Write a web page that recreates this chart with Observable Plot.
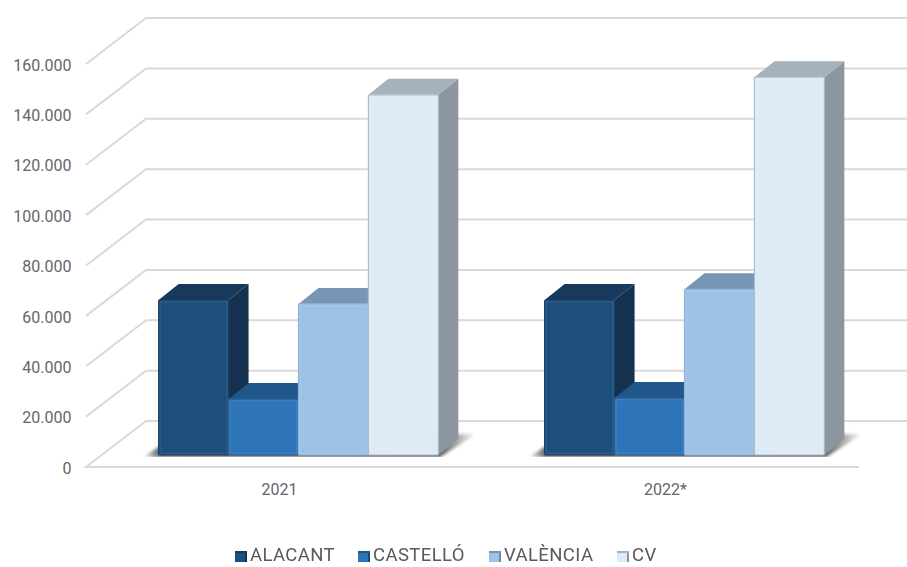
<!DOCTYPE html>
<html>
<head>
<meta charset="utf-8">
<script src="https://cdn.jsdelivr.net/npm/d3@7"></script>
<script src="https://cdn.jsdelivr.net/npm/@observablehq/plot@0.6"></script>
<style>
html,body{margin:0;padding:0;background:#fff;}
#chart{width:907px;height:567px;overflow:hidden;font-family:Roboto,sans-serif;filter:blur(0.45px);}
#legend{height:37px;position:relative;}
#legend span{position:absolute;top:17px;font-size:18.5px;letter-spacing:.4px;line-height:17px;color:#595959;white-space:nowrap;}
#legend i{position:absolute;top:21px;width:12px;height:11px;box-sizing:border-box;}
svg{display:block;}
</style>
</head>
<body>
<div id="chart"></div>
<script>
const years = ["2021", "2022*"];
const regions = ["ALACANT", "CASTELLÓ", "VALÈNCIA", "CV"];
const values2021 = [61500, 22200, 60000, 143000];
const values2022 = [61500, 22600, 65800, 150000];
const yTicks = [0, 20000, 40000, 60000, 80000, 100000, 120000, 140000, 160000];
const frontColors = ["#1d4f7c", "#2e74b8", "#9cc2e6", "#deebf7"];
const sideColors = ["#14324f", "#1b4670", "#6f89a3", "#8d969e"];
const topColors = ["#17395c", "#20568a", "#7896b4", "#a6b2bb"];
const edgeColors = ["#183f63", "#245f98", "#8eb3d6", "#a9bccb"];
const legendLeft = [235, 358, 489, 617];

const rows = years.flatMap((year, i) =>
  regions.map((region, k) => ({year, region, k, value: (i ? values2022 : values2021)[k]}))
);

const W = 907, ML = 85, MR = 49;
const depthX = 20, depthY = 16;
const ns = "http://www.w3.org/2000/svg";
function poly(points, fill) {
  const p = document.createElementNS(ns, "polygon");
  p.setAttribute("points", points.map(d => d.join(",")).join(" "));
  p.setAttribute("fill", fill);
  return p;
}

function wallRender(index, scales) {
  const g = document.createElementNS(ns, "g");
  const x0 = ML, x1 = W - MR;
  const add = (d) => {
    const p = document.createElementNS(ns, "path");
    p.setAttribute("d", d);
    p.setAttribute("fill", "none");
    p.setAttribute("stroke", "#d9d9d9");
    p.setAttribute("stroke-width", "2");
    g.appendChild(p);
  };
  for (const i of index) {
    const v = yTicks[i], y = scales.y(v);
    if (v > 0) add(`M${x0},${y + 12}L${x0 + 60},${y - 34}L${x1 + 60},${y - 34}`);
    else add(`M${x1},${y + 12}L${x0},${y + 12}L${x0 + 60},${y - 34}L${x1 + 60},${y - 34}`);
  }
  return g;
}

function barRender(index, scales, values, dims, ctx, next) {
  const g = next(index, scales, values, dims, ctx);
  const rects = Array.from(g.querySelectorAll("rect"));
  rects.forEach((r, n) => {
    const d = rows[index[n]];
    const x = +r.getAttribute("x"), y = +r.getAttribute("y"), w = +r.getAttribute("width"), h = +r.getAttribute("height");
    const b = y + h;
    if (d.k === 0) {
      const id = "floor" + d.year.slice(0, 4);
      const xL = x - 16, xR = x + 4 * w + depthX + 18, span = xR - xL;
      const defs = document.createElementNS(ns, "defs");
      defs.innerHTML = `<filter id="${id}b" x="-10%" y="-50%" width="120%" height="200%"><feGaussianBlur stdDeviation="1.6"/></filter>` +
        `<clipPath id="${id}c"><rect x="${x - 40}" y="${b - depthY - 20}" width="${4 * w + 120}" height="${depthY + 22}"/></clipPath>` +
        `<linearGradient id="${id}g" gradientUnits="userSpaceOnUse" x1="${xL}" x2="${xR}" y1="0" y2="0">` +
        `<stop offset="0" stop-color="#fff"/><stop offset="${16 / span}" stop-color="#6a6a6a"/>` +
        `<stop offset="${(span - 38) / span}" stop-color="#5a5a5a"/><stop offset="1" stop-color="#fff"/></linearGradient>`;
      const wrap = document.createElementNS(ns, "g");
      wrap.setAttribute("clip-path", `url(#${id}c)`);
      const s = poly([[xL, b + 2], [x + 4 * w + 2, b + 2], [xR, b - depthY - 5], [x + depthX, b - depthY - 5]], `url(#${id}g)`);
      s.setAttribute("filter", `url(#${id}b)`);
      wrap.appendChild(s);
      r.parentNode.insertBefore(defs, r);
      r.parentNode.insertBefore(wrap, r);
    }
    r.parentNode.insertBefore(poly([[x + w, y], [x + w + depthX, y - depthY], [x + w + depthX, b - depthY], [x + w, b]], sideColors[d.k]), r);
    r.parentNode.insertBefore(poly([[x, y], [x + depthX, y - depthY], [x + w + depthX, y - depthY], [x + w, y]], topColors[d.k]), r);
    r.setAttribute("stroke", edgeColors[d.k]);
    r.setAttribute("stroke-width", "1.2");
    r.setAttribute("rx", "1");
    const hi = document.createElementNS(ns, "rect");
    for (const [a, v] of [["x", x + 1.5], ["y", y + 1.5], ["width", w - 3], ["height", h - 3]]) hi.setAttribute(a, v);
    hi.setAttribute("fill", "none");
    hi.setAttribute("stroke", "#fff");
    hi.setAttribute("stroke-opacity", "0.08");
    hi.setAttribute("stroke-width", "1.5");
    r.parentNode.insertBefore(hi, r.nextSibling);
  });
  return g;
}

const plot = Plot.plot({
  width: W,
  height: 530,
  marginLeft: ML,
  marginRight: MR,
  marginTop: 0,
  marginBottom: 63,
  style: {fontFamily: "Roboto, sans-serif", fontSize: "16px", color: "#666", background: "#fff"},
  fx: {domain: years, padding: 0, label: null},
  x: {domain: regions, axis: null, paddingInner: 0, paddingOuter: 0.76, round: false},
  y: {domain: [0, 160000], range: [455, 52]},
  color: {domain: regions, range: frontColors},
  marks: [
    Plot.ruleY(yTicks, {y: d => d, fx: () => years[0], render: wallRender}),
    Plot.axisY({ticks: yTicks, tickSize: 0, tickPadding: 15, dy: 13, label: null,
      tickFormat: d => d3.format(",")(d).replace(/,/g, ".")}),
    Plot.axisFx({anchor: "bottom", tickSize: 0, tickPadding: 16, label: null}),
    Plot.barY(rows, {fx: "year", x: "region", y: "value", fill: "region", dx: 19.5, render: barRender})
  ]
});
const chart = document.getElementById("chart");
chart.appendChild(plot);

const legend = document.createElement("div");
legend.id = "legend";
regions.forEach((r, k) => {
  const sw = document.createElement("i");
  sw.style.left = legendLeft[k] + "px";
  sw.style.background = frontColors[k];
  sw.style.boxShadow = `inset 0 2px 0 ${topColors[k]}, inset -2px 0 0 ${sideColors[k]}`;
  legend.appendChild(sw);
  const t = document.createElement("span");
  t.style.left = (legendLeft[k] + 15) + "px";
  t.textContent = r;
  legend.appendChild(t);
});
chart.appendChild(legend);
</script>
</body>
</html>
